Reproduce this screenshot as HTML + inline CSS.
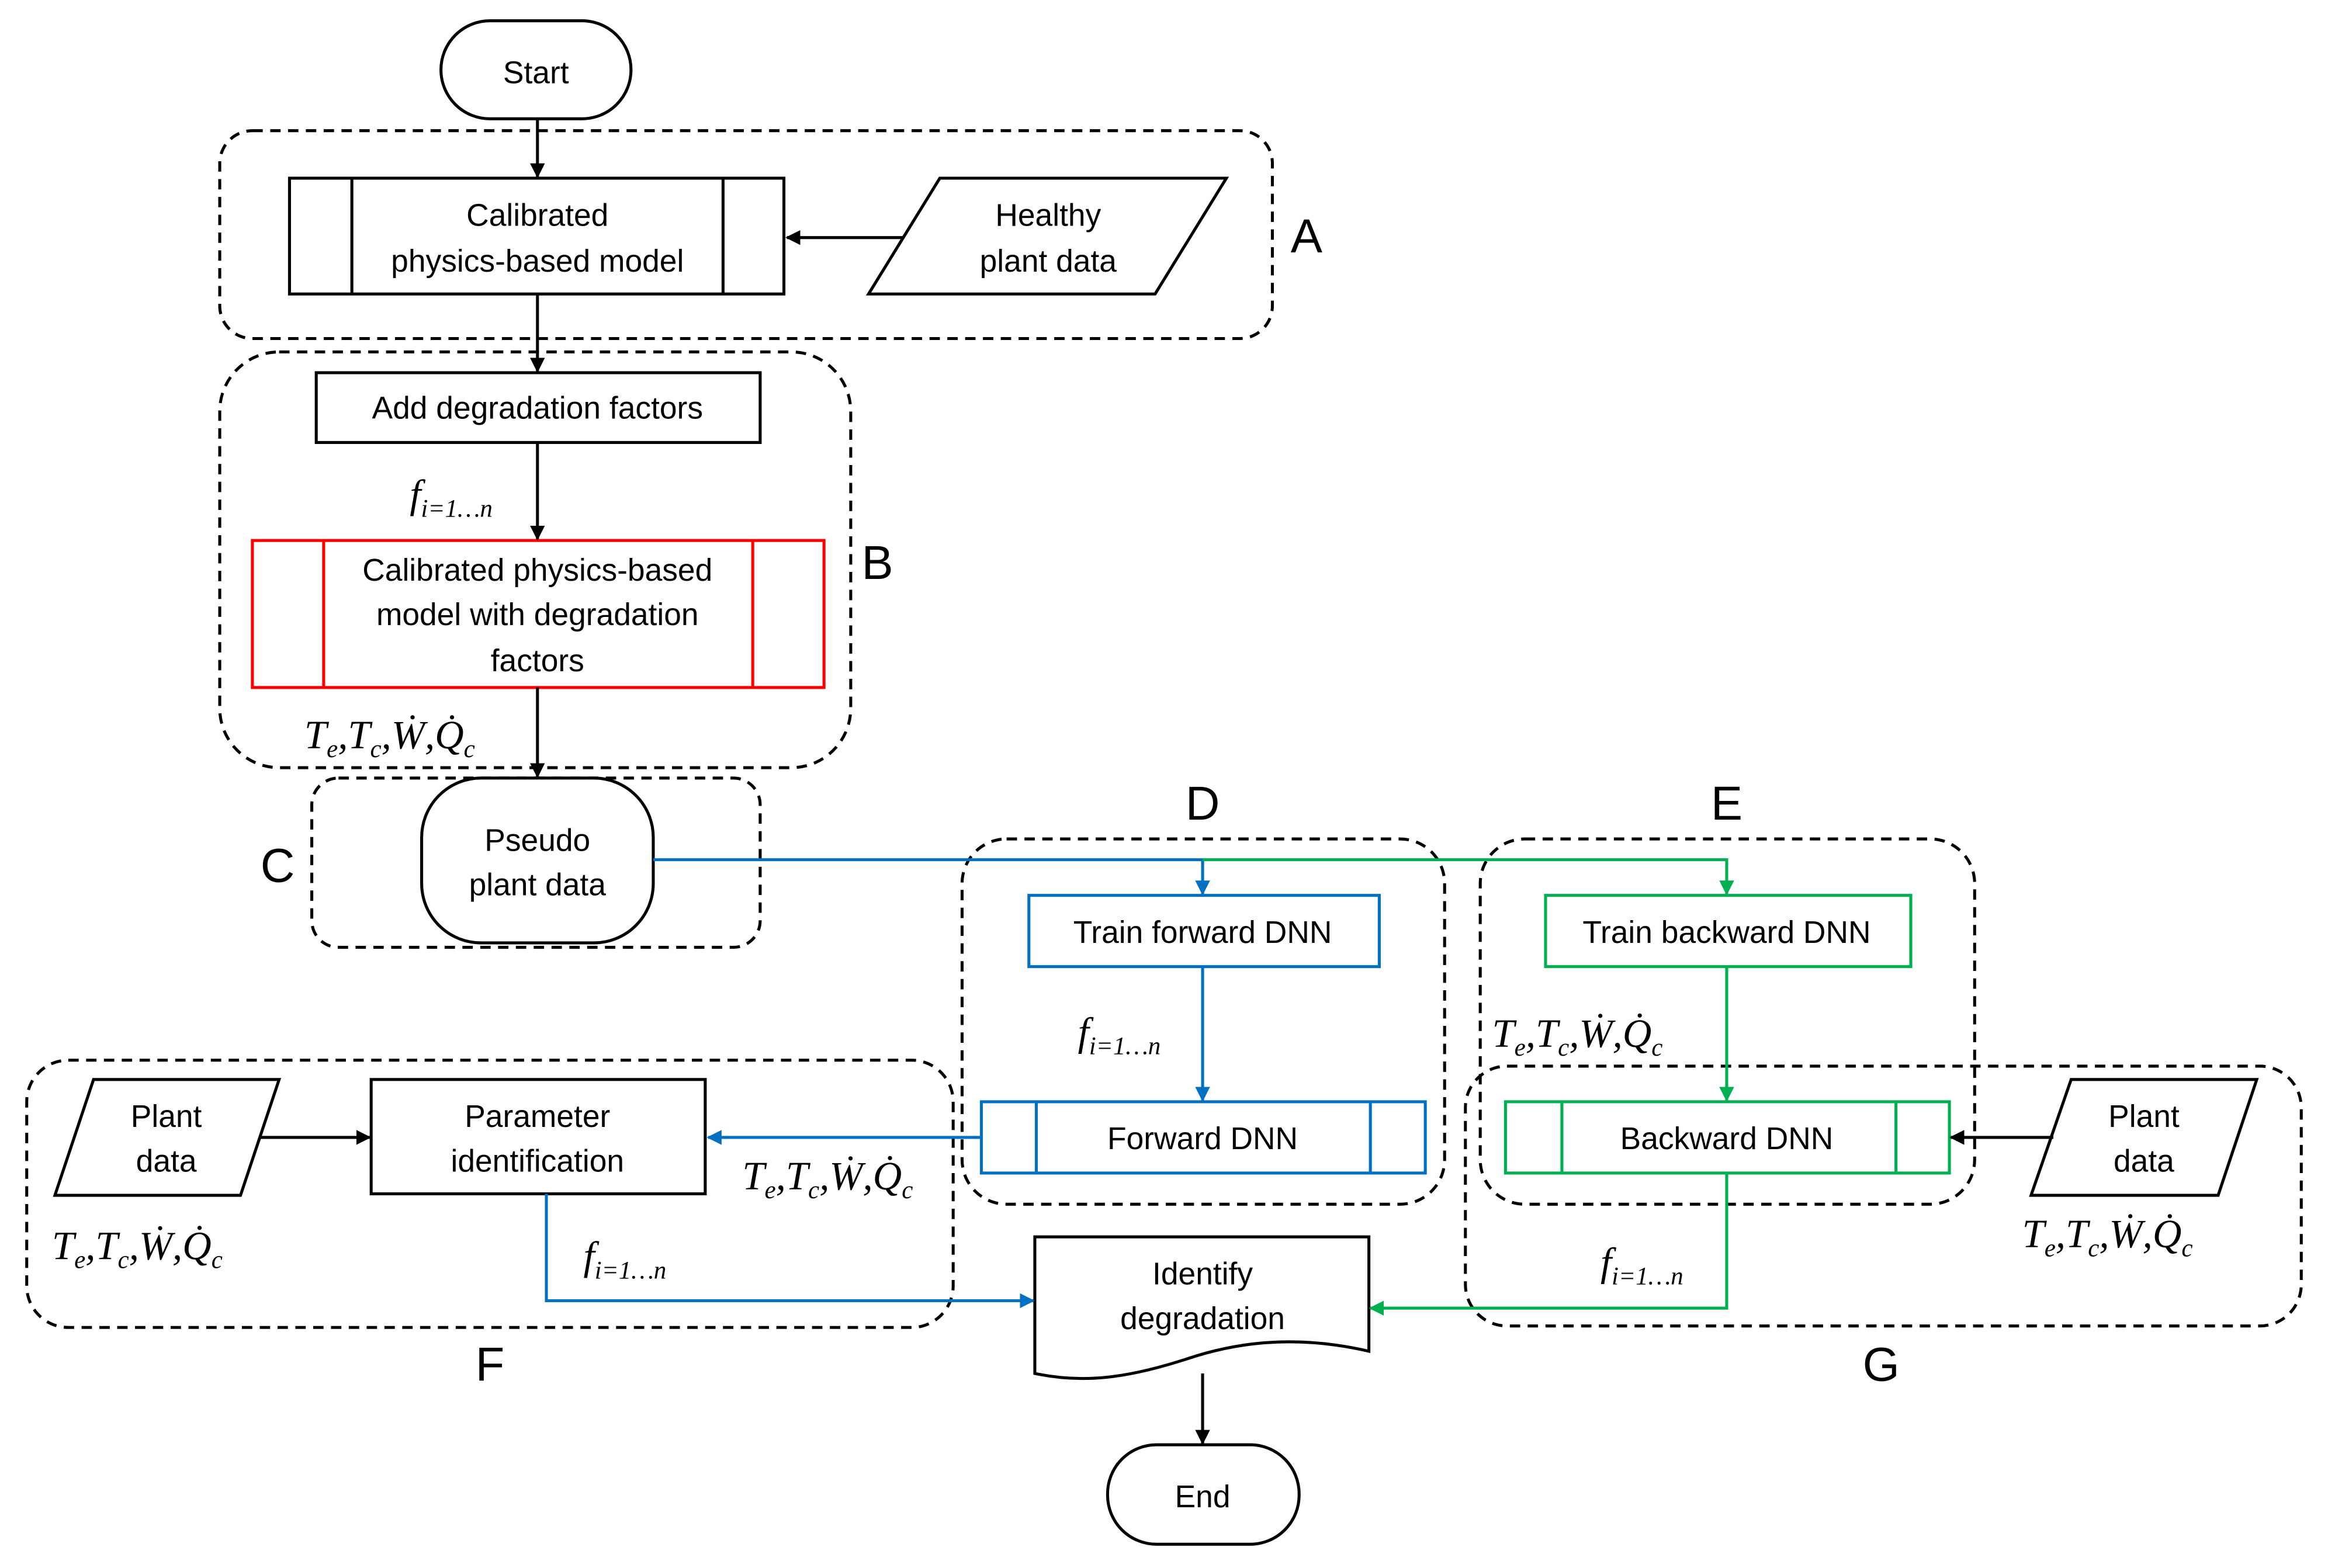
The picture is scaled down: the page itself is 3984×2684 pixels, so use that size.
<!DOCTYPE html>
<html><head><meta charset="utf-8"><style>
html,body{margin:0;padding:0;background:#fff;}
svg{display:block;}
.t{font-family:"Liberation Sans",sans-serif;font-size:21px;text-anchor:middle;fill:#000;}
.L{font-family:"Liberation Sans",sans-serif;font-size:32px;text-anchor:middle;}
.m, .m text, .m tspan{font-family:"Liberation Serif","DejaVu Serif",serif !important;font-style:italic;font-size:27px;}
.m tspan.s{font-size:17px;}
</style></head><body>
<svg width="3984" height="2684" viewBox="0 0 1568 1056" preserveAspectRatio="none" xmlns="http://www.w3.org/2000/svg">
<defs>
<marker id="ak" markerWidth="10" markerHeight="10" refX="9" refY="5" orient="auto" markerUnits="userSpaceOnUse"><path d="M0,0 L10,5 L0,10 z" fill="#000"/></marker>
<marker id="ab" markerWidth="10" markerHeight="10" refX="9" refY="5" orient="auto" markerUnits="userSpaceOnUse"><path d="M0,0 L10,5 L0,10 z" fill="#0070C0"/></marker>
<marker id="ag" markerWidth="10" markerHeight="10" refX="9" refY="5" orient="auto" markerUnits="userSpaceOnUse"><path d="M0,0 L10,5 L0,10 z" fill="#00B050"/></marker>
</defs>
<g fill="none" stroke="#000" stroke-width="2" stroke-dasharray="7,5">
<rect x="148" y="88" width="709" height="140" rx="22"/>
<rect x="148" y="237" width="425" height="280" rx="40"/>
<rect x="210" y="524" width="302" height="114" rx="18"/>
<rect x="648" y="565" width="325" height="246" rx="30"/>
<rect x="997" y="565" width="333" height="246" rx="30"/>
<rect x="18" y="714" width="624" height="180" rx="28"/>
<rect x="987" y="718" width="563" height="175" rx="28"/>
</g>
<g fill="#fff" stroke="#000" stroke-width="2">
<rect x="297" y="14" width="128" height="66" rx="33"/>
<rect x="195" y="120" width="333" height="78"/>
<line x1="237" y1="120" x2="237" y2="198"/><line x1="487" y1="120" x2="487" y2="198"/>
<polygon points="633,120 826,120 778,198 585,198"/>
<rect x="213" y="251" width="299" height="47"/>
<rect x="284" y="524" width="156" height="111" rx="40"/>
<polygon points="63,727 188,727 162,805 37,805"/>
<rect x="250" y="727" width="225" height="77"/>
<polygon points="1395,727 1520,727 1494,805 1368,805"/>
<path d="M697,833 L922,833 L922,910 C870,898 830,905 800,915 C760,928 730,932 697,925 Z"/>
<rect x="746" y="973" width="129" height="67" rx="33"/>
</g>
<g fill="#fff" stroke="#FF0000" stroke-width="2">
<rect x="170" y="364" width="385" height="99"/>
<line x1="218" y1="364" x2="218" y2="463"/><line x1="507" y1="364" x2="507" y2="463"/>
</g>
<g fill="#fff" stroke="#0070C0" stroke-width="2">
<rect x="693" y="603" width="236" height="48"/>
<rect x="661" y="742" width="299" height="48"/>
<line x1="698" y1="742" x2="698" y2="790"/><line x1="923" y1="742" x2="923" y2="790"/>
</g>
<g fill="#fff" stroke="#00B050" stroke-width="2">
<rect x="1041" y="603" width="246" height="48"/>
<rect x="1014" y="742" width="299" height="48"/>
<line x1="1052" y1="742" x2="1052" y2="790"/><line x1="1277" y1="742" x2="1277" y2="790"/>
</g>
<g fill="none" stroke="#000" stroke-width="2">
<line x1="362" y1="80" x2="362" y2="119" marker-end="url(#ak)"/>
<line x1="608" y1="160" x2="530" y2="160" marker-end="url(#ak)"/>
<line x1="362" y1="198" x2="362" y2="250" marker-end="url(#ak)"/>
<line x1="362" y1="298" x2="362" y2="363" marker-end="url(#ak)"/>
<line x1="362" y1="463" x2="362" y2="523" marker-end="url(#ak)"/>
<line x1="175" y1="766" x2="249" y2="766" marker-end="url(#ak)"/>
<line x1="1383" y1="766" x2="1314" y2="766" marker-end="url(#ak)"/>
<line x1="810" y1="925" x2="810" y2="972" marker-end="url(#ak)"/>
</g>
<g fill="none" stroke="#0070C0" stroke-width="2">
<polyline points="440,579 810,579 810,602" marker-end="url(#ab)"/>
<line x1="810" y1="651" x2="810" y2="741" marker-end="url(#ab)"/>
<line x1="661" y1="766" x2="477" y2="766" marker-end="url(#ab)"/>
<polyline points="368,804 368,876 696,876" marker-end="url(#ab)"/>
</g>
<g fill="none" stroke="#00B050" stroke-width="2">
<polyline points="810,579 1163,579 1163,602" marker-end="url(#ag)"/>
<line x1="1163" y1="651" x2="1163" y2="741" marker-end="url(#ag)"/>
<polyline points="1163,790 1163,881 923,881" marker-end="url(#ag)"/>
</g>
<text class="t" x="361" y="56">Start</text>
<text class="t" x="362" y="152">Calibrated</text>
<text class="t" x="362" y="183">physics-based model</text>
<text class="t" x="706" y="152">Healthy</text>
<text class="t" x="706" y="183">plant data</text>
<text class="t" x="362" y="282">Add degradation factors</text>
<text class="t" x="362" y="391">Calibrated physics-based</text>
<text class="t" x="362" y="421">model with degradation</text>
<text class="t" x="362" y="452">factors</text>
<text class="t" x="362" y="573">Pseudo</text>
<text class="t" x="362" y="603">plant data</text>
<text class="t" x="810" y="635">Train forward DNN</text>
<text class="t" x="1163" y="635">Train backward DNN</text>
<text class="t" x="810" y="774">Forward DNN</text>
<text class="t" x="1163" y="774">Backward DNN</text>
<text class="t" x="112" y="759">Plant</text>
<text class="t" x="112" y="789">data</text>
<text class="t" x="1444" y="759">Plant</text>
<text class="t" x="1444" y="789">data</text>
<text class="t" x="362" y="759">Parameter</text>
<text class="t" x="362" y="789">identification</text>
<text class="t" x="810" y="865">Identify</text>
<text class="t" x="810" y="895">degradation</text>
<text class="t" x="810" y="1015">End</text>
<text class="L" x="880" y="170">A</text>
<text class="L" x="591" y="390">B</text>
<text class="L" x="187" y="594">C</text>
<text class="L" x="810" y="552">D</text>
<text class="L" x="1163" y="552">E</text>
<text class="L" x="330" y="930">F</text>
<text class="L" x="1267" y="930">G</text>
<g class="m" font-family="Liberation Serif, serif" font-style="italic">
<text x="276" y="342">f<tspan class="s" dy="6">i=1…n</tspan></text>
<text x="726" y="704">f<tspan class="s" dy="6">i=1…n</tspan></text>
<text x="393" y="855">f<tspan class="s" dy="6">i=1…n</tspan></text>
<text x="1078" y="859">f<tspan class="s" dy="6">i=1…n</tspan></text>
<text x="205" y="504">T<tspan class="s" dy="6">e</tspan><tspan dy="-6">,T</tspan><tspan class="s" dy="6">c</tspan><tspan dy="-6">,Ẇ,Q̇</tspan><tspan class="s" dy="6">c</tspan></text>
<text x="1005" y="705">T<tspan class="s" dy="6">e</tspan><tspan dy="-6">,T</tspan><tspan class="s" dy="6">c</tspan><tspan dy="-6">,Ẇ,Q̇</tspan><tspan class="s" dy="6">c</tspan></text>
<text x="500" y="801">T<tspan class="s" dy="6">e</tspan><tspan dy="-6">,T</tspan><tspan class="s" dy="6">c</tspan><tspan dy="-6">,Ẇ,Q̇</tspan><tspan class="s" dy="6">c</tspan></text>
<text x="35" y="848">T<tspan class="s" dy="6">e</tspan><tspan dy="-6">,T</tspan><tspan class="s" dy="6">c</tspan><tspan dy="-6">,Ẇ,Q̇</tspan><tspan class="s" dy="6">c</tspan></text>
<text x="1362" y="840">T<tspan class="s" dy="6">e</tspan><tspan dy="-6">,T</tspan><tspan class="s" dy="6">c</tspan><tspan dy="-6">,Ẇ,Q̇</tspan><tspan class="s" dy="6">c</tspan></text>
</g>
</svg>
</body></html>
